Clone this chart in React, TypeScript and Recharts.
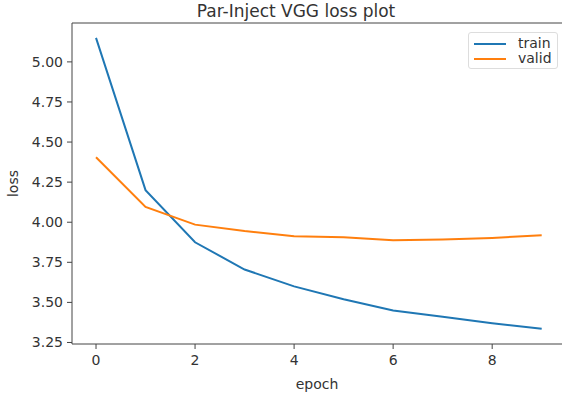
import React from "react";
import { LineChart, Line, XAxis, YAxis, Label, ReferenceLine } from "recharts";

const epochs = [0, 1, 2, 3, 4, 5, 6, 7, 8, 9];
const trainLoss = [5.15, 4.2, 3.875, 3.705, 3.6, 3.52, 3.45, 3.41, 3.37, 3.335];
const validLoss = [4.405, 4.095, 3.985, 3.945, 3.912, 3.907, 3.888, 3.892, 3.902, 3.918];
const xTicks = [0, 2, 4, 6, 8];
const yTicks = [3.25, 3.5, 3.75, 4.0, 4.25, 4.5, 4.75, 5.0];
const seriesNames = ["train", "valid"];
const colors = ["#1f77b4", "#ff7f0e"];

const X_MIN = -0.485;
const X_MAX = 9.41;
const Y_MIN = 3.2405;
const Y_MAX = 5.2425;

const data = epochs.map((e, i) => ({ epoch: e, train: trainLoss[i], valid: validLoss[i] }));

const FONT = "'DejaVu Sans', sans-serif";
const TXT = "#333";

const LegendBox = () => (
  <div
    style={{
      position: "absolute",
      left: 468,
      top: 32,
      height: 37,
      width: 90,
      border: "1px solid #ddd",
      borderRadius: 3,
      background: "#fff",
      padding: "3px 5px",
      fontFamily: FONT,
      fontSize: 14,
      color: TXT,
      boxSizing: "border-box",
    }}
  >
    {seriesNames.map((n, i) => (
      <div key={n} style={{ display: "flex", alignItems: "center", height: 15 }}>
        <div style={{ width: 32, height: 2, background: colors[i], marginRight: 12 }} />
        <span style={{ lineHeight: "15px" }}>{n}</span>
      </div>
    ))}
  </div>
);

export default function App() {
  return (
    <div style={{ position: "absolute", left: 0, top: 0, width: 562, height: 398, background: "#fff" }}>
      <LineChart
        width={562}
        height={398}
        data={data}
        margin={{ top: 23, right: 0, bottom: 0, left: 0 }}
      >
        <XAxis
          dataKey="epoch"
          type="number"
          domain={[X_MIN, X_MAX]}
          ticks={xTicks}
          allowDataOverflow
          stroke="#444"
          tickSize={5}
          tickMargin={6}
          tick={{ fill: TXT, fontSize: 14, fontFamily: FONT }}
          height={54}
        >
          <Label value="epoch" position="insideBottom" offset={9} style={{ fill: TXT, fontSize: 14, fontFamily: FONT }} />
        </XAxis>
        <YAxis
          type="number"
          domain={[Y_MIN, Y_MAX]}
          ticks={yTicks}
          allowDataOverflow
          width={72}
          stroke="#444"
          tickSize={5}
          tickMargin={4}
          tickFormatter={(v: number) => v.toFixed(2)}
          tick={{ fill: TXT, fontSize: 14, fontFamily: FONT }}
        >
          <Label value="loss" angle={-90} position="insideLeft" offset={13} style={{ fill: TXT, fontSize: 14, fontFamily: FONT, textAnchor: "middle" }} />
        </YAxis>
        <ReferenceLine y={Y_MAX} stroke="#444" strokeWidth={1} ifOverflow="visible" />
        <Line dataKey="train" name="train" stroke={colors[0]} strokeWidth={2} dot={false} isAnimationActive={false} />
        <Line dataKey="valid" name="valid" stroke={colors[1]} strokeWidth={2} dot={false} isAnimationActive={false} />
      </LineChart>
      <div
        style={{
          position: "absolute",
          left: 176,
          width: 240,
          top: 0,
          lineHeight: "22px",
          textAlign: "center",
          fontFamily: FONT,
          fontSize: 17,
          color: TXT,
        }}
      >
        Par-Inject VGG loss plot
      </div>
      <LegendBox />
    </div>
  );
}
